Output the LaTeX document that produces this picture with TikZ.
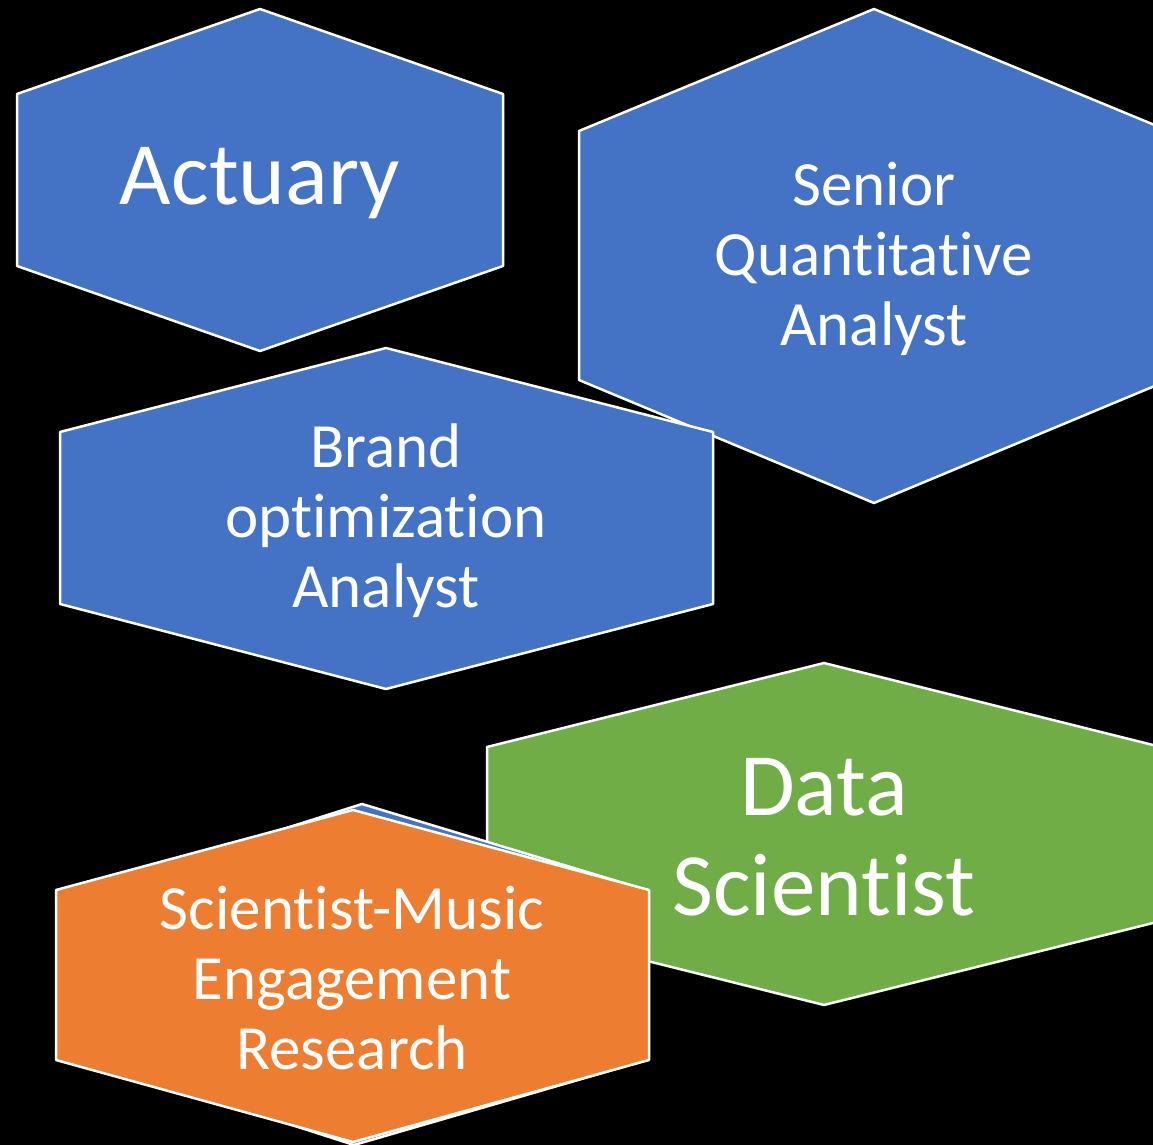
\documentclass[tikz,border=0pt]{standalone}
\usepackage{fontspec}
\setmainfont{Carlito}[Ligatures=NoCommon]
\usepackage{tkz-euclide}
\definecolor{HexBlue}{HTML}{4472C4}
\definecolor{HexGreen}{HTML}{70AD47}
\definecolor{HexOrange}{HTML}{ED7D31}
\newcommand{\bigtxt}{\fontsize{44.5}{50}\selectfont}
\newcommand{\midtxt}{\fontsize{31.5}{35}\selectfont}

\begin{document}
\begin{tikzpicture}[x=0.5pt,y=-0.5pt]
\tikzset{hextext/.style={text=white,align=center,inner sep=0pt,yshift=-1.5pt}}

\fill[black] (0,0) rectangle (1153,1145);
\useasboundingbox (0,0) rectangle (1153,1145);

\tkzDefPoints{260/9/a1,503/94/a2,503/266/a3,260/351/a4,17/266/a5,17/94/a6,260/180/ca}
\tkzDefPoints{874/9/s1,1169/131/s2,1169/380/s3,874/503/s4,579/380/s5,579/131/s6,874/256/cs}
\tkzDefPoints{386/348/b1,713/432/b2,713/604/b3,386/689/b4,60/604/b5,60/432/b6,386/518/cb}
\tkzDefPoints{824/663/d1,1161/747/d2,1161/921/d3,824/1005/d4,487/921/d5,487/747/d6,824/834/cd}
\tkzDefPoints{362/804/h1,640/888/h2,640/1062/h3,354/1145/h4,60/1050/h5,60/900/h6}
\tkzDefPoints{353/810/m1,649/890/m2,649/1060/m3,353/1142/m4,56/1060/m5,56/890/m6,352/975/cm}

\tkzSetUpLine[line width=1.25pt,color=white]

\tkzFillPolygon[fill=HexBlue](a1,a2,a3,a4,a5,a6)
\tkzDrawPolygon(a1,a2,a3,a4,a5,a6)

\tkzFillPolygon[fill=HexBlue](s1,s2,s3,s4,s5,s6)
\tkzDrawPolygon(s1,s2,s3,s4,s5,s6)

\tkzFillPolygon[fill=HexBlue](b1,b2,b3,b4,b5,b6)
\tkzDrawPolygon(b1,b2,b3,b4,b5,b6)

\tkzFillPolygon[fill=HexGreen](d1,d2,d3,d4,d5,d6)
\tkzDrawPolygon(d1,d2,d3,d4,d5,d6)

% blue one hidden under the orange
\tkzFillPolygon[fill=HexBlue](h1,h2,h3,h4,h5,h6)
\tkzDrawPolygon(h1,h2,h3,h4,h5,h6)

\tkzFillPolygon[fill=HexOrange](m1,m2,m3,m4,m5,m6)
\tkzDrawPolygon(m1,m2,m3,m4,m5,m6)

\node[hextext,font=\bigtxt] (actuary) at (ca) {Actuary};
\node[hextext,font=\midtxt] (senior) at (cs) {Senior\\Quantitative\\Analyst};
\node[hextext,font=\midtxt] (brand) at (cb) {Brand\\optimization\\Analyst};
\node[hextext,font=\bigtxt] (data) at (cd) {Data\\Scientist};
\node[hextext,font=\midtxt] (music) at (cm) {Scientist-Music\\Engagement\\Research};

\end{tikzpicture}
\end{document}
